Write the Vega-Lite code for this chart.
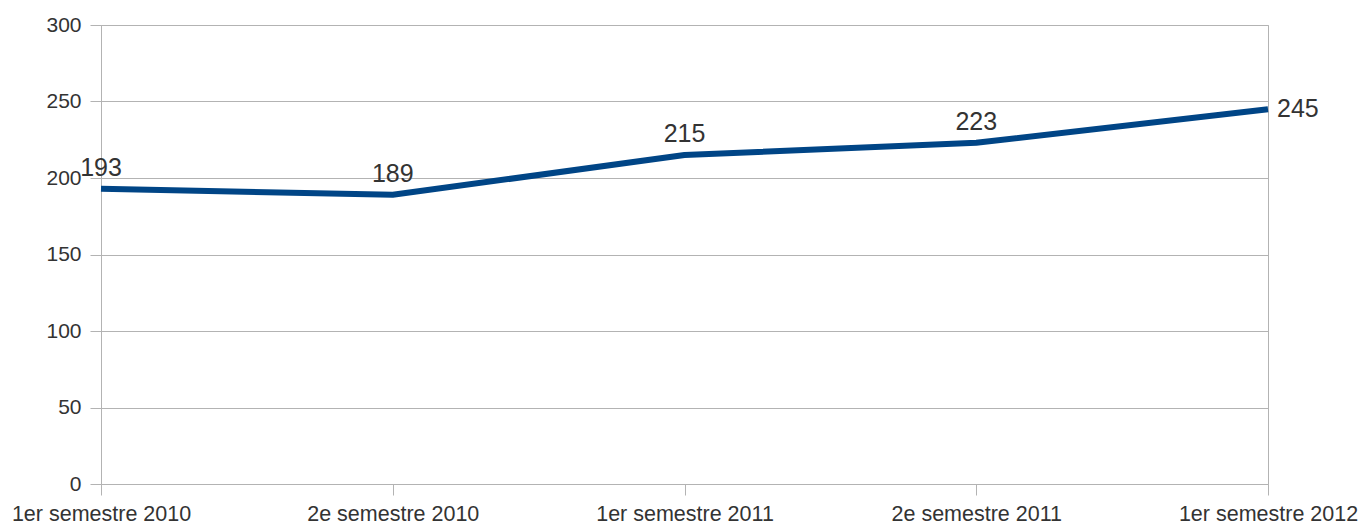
{
  "$schema": "https://vega.github.io/schema/vega-lite/v6.json",
  "width": 1167,
  "height": 459,
  "autosize": "none",
  "padding": {"left": 101, "top": 25, "right": 95, "bottom": 41},
  "background": "white",
  "config": {
    "font": "Liberation Sans",
    "view": {"stroke": "#b3b3b3", "strokeWidth": 1},
    "axis": {
      "labelFont": "Liberation Sans",
      "labelColor": "#333333",
      "labelFontSize": 21,
      "domainColor": "#b3b3b3",
      "tickColor": "#b3b3b3",
      "gridColor": "#b3b3b3",
      "tickSize": 11,
      "title": null
    }
  },
  "data": {
    "values": [
      {"period": "1er semestre 2010", "value": 193, "pos": "above"},
      {"period": "2e semestre 2010", "value": 189, "pos": "above"},
      {"period": "1er semestre 2011", "value": 215, "pos": "above"},
      {"period": "2e semestre 2011", "value": 223, "pos": "above"},
      {"period": "1er semestre 2012", "value": 245, "pos": "right"}
    ]
  },
  "encoding": {
    "x": {
      "field": "period",
      "type": "ordinal",
      "sort": null,
      "scale": {"type": "point", "padding": 0},
      "axis": {"labelAngle": 0, "grid": false, "labelPadding": 8, "labelFontSize": 21.5, "title": null}
    },
    "y": {
      "field": "value",
      "type": "quantitative",
      "scale": {"domain": [0, 300], "nice": false},
      "axis": {"values": [0, 50, 100, 150, 200, 250, 300], "grid": true, "labelPadding": 9, "domain": true, "title": null}
    }
  },
  "layer": [
    {"mark": {"type": "line", "color": "#004586", "strokeWidth": 6, "strokeJoin": "round"}},
    {
      "transform": [{"filter": "datum.pos === 'above'"}],
      "mark": {"type": "text", "fontSize": 25, "color": "#333333", "align": "center", "baseline": "alphabetic", "dy": -13},
      "encoding": {"text": {"field": "value", "type": "quantitative"}}
    },
    {
      "transform": [{"filter": "datum.pos === 'right'"}],
      "mark": {"type": "text", "fontSize": 25, "color": "#333333", "align": "left", "baseline": "middle", "dx": 9},
      "encoding": {"text": {"field": "value", "type": "quantitative"}}
    }
  ]
}
